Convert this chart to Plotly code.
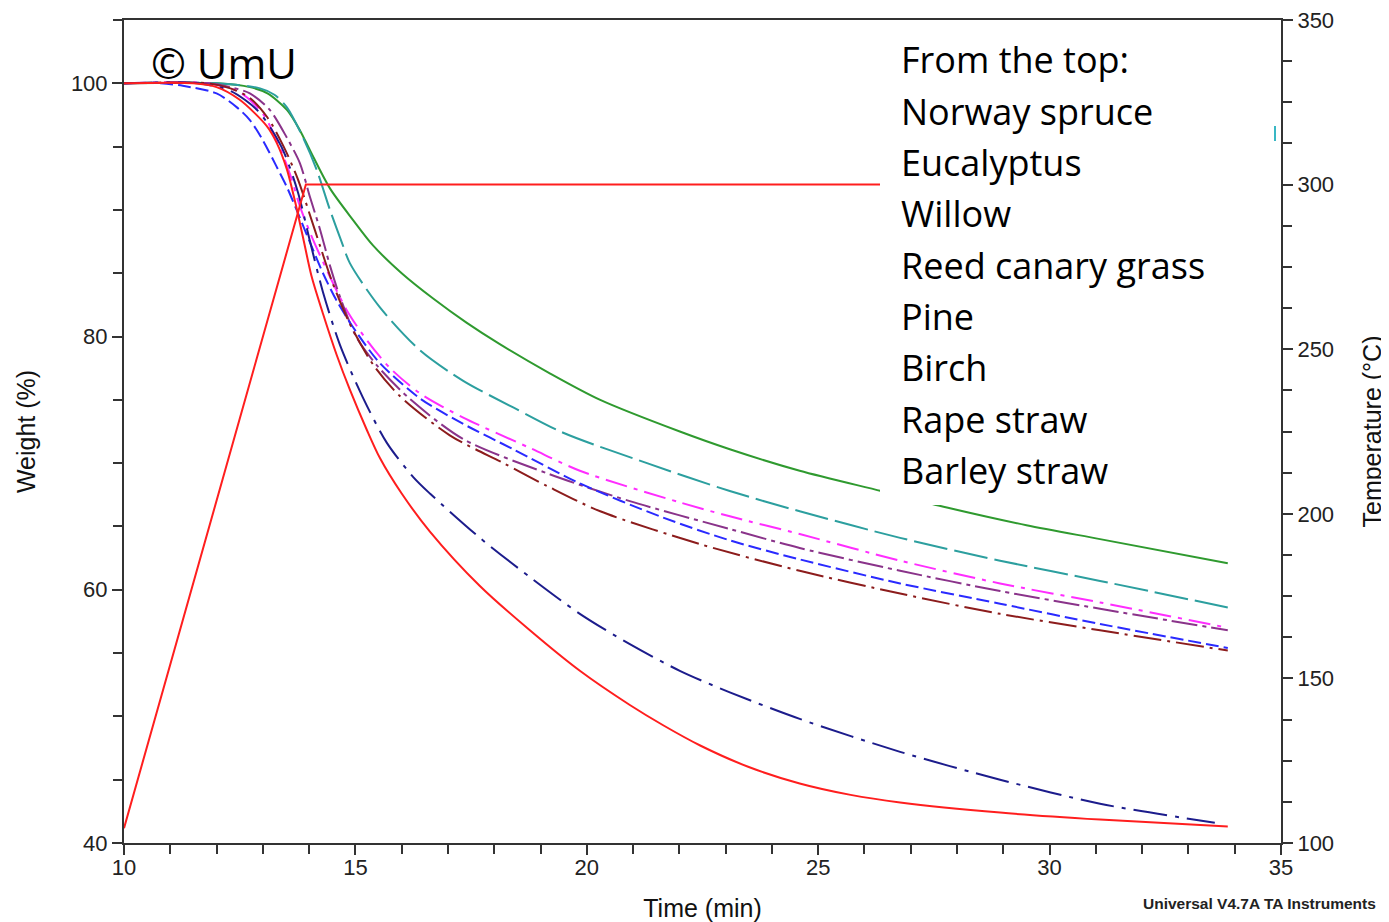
import plotly.graph_objects as go

# ---------------- data ----------------
temp_time = [10, 13.93, 33.85]
temp_c = [104.5, 300, 300]

spruce_t = [10, 12.0, 12.72, 13.1, 13.52, 13.8, 14.02, 14.45, 14.95, 15.38, 16.0, 16.68, 17.4, 18.12, 19.2, 20.29, 22.01, 23.09, 24.6, 26.36, 27.78, 29.5, 31.09, 33.85]
spruce_w = [100, 100, 99.7, 99.2, 97.9, 96.3, 94.7, 91.7, 89.2, 87.2, 85.0, 83.0, 81.1, 79.4, 77.1, 75.0, 72.5, 71.1, 69.4, 67.8, 66.5, 65.1, 64.0, 62.1]

eucalyptus_t = [10, 12.0, 12.94, 13.25, 13.52, 13.87, 14.17, 14.45, 14.7, 14.88, 15.53, 16.4, 17.33, 18.41, 19.49, 21.3, 23.09, 24.6, 26.77, 28.93, 31.09, 33.85]
eucalyptus_w = [100, 100, 99.6, 99.1, 98.1, 95.7, 93.1, 90.0, 87.5, 85.8, 82.3, 78.9, 76.5, 74.4, 72.4, 70.0, 67.8, 66.2, 64.1, 62.3, 60.7, 58.6]

willow_t = [10, 11.8, 12.5, 13.0, 13.3, 13.59, 13.8, 14.02, 14.3, 14.81, 15.25, 15.75, 16.4, 17.33, 18.77, 19.85, 22.01, 23.09, 24.6, 26.77, 28.93, 31.09, 33.85]
willow_w = [100, 100, 99.3, 97.6, 95.5, 92.8, 90.3, 88.2, 85.9, 82.1, 79.7, 77.5, 75.5, 73.6, 71.2, 69.4, 66.9, 65.8, 64.4, 62.3, 60.5, 59.0, 57.0]

reed_t = [10, 11.8, 12.3, 12.72, 13.15, 13.52, 13.8, 14.02, 14.24, 14.45, 14.67, 15.03, 15.47, 16.2, 17.33, 19.14, 20.93, 23.09, 24.6, 26.77, 28.93, 31.09, 33.85]
reed_w = [100, 100, 99.7, 99.2, 97.9, 95.7, 93.7, 91.0, 88.4, 85.6, 83.1, 79.9, 77.7, 75.0, 71.9, 69.2, 67.0, 64.8, 63.3, 61.5, 59.9, 58.5, 56.8]

pine_t = [10, 10.8, 11.27, 12.0, 12.44, 12.72, 13.0, 13.3, 13.52, 13.73, 14.0, 14.3, 14.6, 15.03, 15.53, 16.4, 17.33, 18.41, 19.85, 21.65, 23.09, 24.6, 26.77, 28.93, 31.09, 33.85]
pine_w = [100, 100, 99.8, 99.2, 98.1, 97.1, 95.5, 93.4, 91.8, 90.0, 87.6, 85.0, 82.8, 80.3, 77.9, 75.1, 73.1, 71.1, 68.4, 65.7, 63.9, 62.4, 60.5, 58.9, 57.3, 55.4]

birch_t = [10, 11.8, 12.3, 12.7, 13.1, 13.45, 13.75, 14.0, 14.25, 14.5, 14.88, 15.38, 15.96, 17.04, 18.2, 19.14, 20.29, 22.45, 24.6, 26.77, 28.93, 31.09, 33.85]
birch_w = [100, 100, 99.6, 98.9, 97.3, 95.0, 92.5, 89.8, 87.0, 84.3, 81.0, 77.8, 75.3, 72.2, 70.0, 68.2, 66.2, 63.6, 61.5, 59.7, 58.1, 56.8, 55.2]

rape_t = [10, 11.6, 12.3, 12.9, 13.4, 13.75, 14.02, 14.3, 14.67, 15.16, 15.68, 16.25, 16.61, 17.69, 18.77, 19.85, 20.93, 22.01, 23.09, 24.6, 26.77, 28.93, 31.09, 33.57]
rape_w = [100, 100, 99.4, 97.8, 95.0, 91.5, 87.5, 83.5, 79.3, 75.2, 71.6, 68.9, 67.6, 64.1, 61.0, 58.1, 55.7, 53.6, 51.9, 49.8, 47.2, 45.0, 43.1, 41.6]

barley_t = [10, 11.5, 12.0, 12.5, 13.09, 13.3, 13.52, 13.7, 13.87, 14.05, 14.3, 14.6, 14.88, 15.25, 15.53, 16.0, 16.61, 17.69, 18.77, 19.85, 20.93, 21.65, 22.45, 23.5, 24.6, 25.7, 26.77, 28.93, 31.09, 33.85]
barley_w = [100, 100, 99.7, 98.7, 96.6, 95.3, 93.2, 90.6, 87.8, 84.8, 81.8, 78.5, 75.8, 72.6, 70.4, 67.6, 64.6, 60.3, 56.8, 53.6, 50.9, 49.3, 47.7, 46.0, 44.7, 43.8, 43.2, 42.4, 41.85, 41.3]

legend_lines = ["From the top:", "Norway spruce", "Eucalyptus", "Willow", "Reed canary grass",
                "Pine", "Birch", "Rape straw", "Barley straw"]

# ---------------- styles ----------------
series = [
    (spruce_t, spruce_w, "#2f9a2f", "solid"),
    (eucalyptus_t, eucalyptus_w, "#2c9f9f", "34px,7px"),
    (willow_t, willow_w, "#ff2dff", "22px,7px,4px,7px"),
    (reed_t, reed_w, "#8a338a", "26px,5px,4px,5px"),
    (pine_t, pine_w, "#2a2aff", "13px,5px"),
    (birch_t, birch_w, "#8c1c1c", "28px,6px,3px,6px"),
    (rape_t, rape_w, "#1c1c8c", "34px,8px,4px,8px"),
    (barley_t, barley_w, "#ff1e1e", "solid"),
]

fig = go.Figure()

fig.add_trace(go.Scatter(x=temp_time, y=temp_c, yaxis="y2", mode="lines",
                         line=dict(color="#ff1e1e", width=2), hoverinfo="skip"))

for t, w, c, d in series:
    fig.add_trace(go.Scatter(x=t, y=w, mode="lines",
                             line=dict(color=c, width=2, dash=d, shape="spline", smoothing=0.8)))

# page pixel positions of the plot area (page has an 8px body margin)
L, R, T, B = 124, 1281, 20, 843
OFF = 8
FIG_W, FIG_H = 1389 - OFF, 922 - OFF


def px(x):
    return (x - L) / (R - L)


def py(y):
    return (B - y) / (B - T)


axis_font = dict(family="Liberation Sans, Arial, sans-serif", size=22, color="#222")
title_font = dict(family="Liberation Sans, Arial, sans-serif", size=25, color="#111")
minor_common = dict(ticks="outside", ticklen=9, tickcolor="#333", tickwidth=1.5, showgrid=False)

fig.update_layout(
    width=FIG_W, height=FIG_H,
    margin=dict(l=L - OFF, r=FIG_W - (R - OFF), t=T - OFF, b=FIG_H - (B - OFF)),
    paper_bgcolor="white", plot_bgcolor="white",
    showlegend=False,
    xaxis=dict(range=[10, 35], tickvals=[10, 15, 20, 25, 30, 35], ticks="outside", ticklen=10,
               tickwidth=1.5, tickcolor="#333", showline=True, linecolor="#333", linewidth=2,
               mirror=True, showgrid=False, zeroline=False, tickfont=axis_font, automargin=False,
               ticklabelstandoff=-6, ticklabeloverflow="allow",
               minor=dict(dtick=1, **minor_common),
               title=dict(text="Time (min)", font=title_font, standoff=20)),
    yaxis=dict(range=[40, 105], tickvals=[40, 60, 80, 100], ticks="outside", ticklen=10,
               tickwidth=1.5, tickcolor="#333", showline=True, linecolor="#333", linewidth=2,
               showgrid=False, zeroline=False, tickfont=axis_font, automargin=False,
               ticklabeloverflow="allow",
               minor=dict(dtick=5, tick0=40, **minor_common),
               title=dict(text="Weight (%)", font=title_font, standoff=28)),
    yaxis2=dict(range=[100, 350], tickvals=[100, 150, 200, 250, 300, 350], overlaying="y", side="right",
                ticks="outside", ticklen=10, tickwidth=1.5, tickcolor="#333", showline=True,
                linecolor="#333", linewidth=2, showgrid=False, zeroline=False, tickfont=axis_font,
                automargin=False, ticklabeloverflow="allow",
                minor=dict(dtick=12.5, tick0=100, **minor_common),
                title=dict(text="Temperature (°C)", font=title_font, standoff=30)),
)

# white text panel covering the curves
fig.add_shape(type="rect", xref="paper", yref="paper", x0=px(880), x1=px(1240), y0=py(505), y1=py(33),
              fillcolor="white", line=dict(width=0), layer="above")
# small cyan mark near right axis
fig.add_shape(type="line", xref="paper", yref="paper", x0=px(1275), x1=px(1275), y0=py(141), y1=py(126),
              line=dict(color="#39b7c4", width=2), layer="above")

text_font = dict(family="Open Sans, sans-serif", size=36, color="black")
for i, s in enumerate(legend_lines):
    fig.add_annotation(text=s, xref="paper", yref="paper", x=px(899), y=py(60 + 51.3 * i),
                       xanchor="left", yanchor="middle", showarrow=False, font=text_font)

fig.add_annotation(text="© UmU", xref="paper", yref="paper", x=px(149), y=py(62),
                   xanchor="left", yanchor="middle", showarrow=False,
                   font=dict(family="Open Sans, sans-serif", size=42, color="black"))

fig.add_annotation(text="<b>Universal V4.7A TA Instruments</b>", xref="paper", yref="paper",
                   x=px(1141), y=py(903), xanchor="left", yanchor="middle", showarrow=False,
                   font=dict(family="Liberation Sans, Arial, sans-serif", size=15.5, color="#222"))

fig.write_html("out.html")
